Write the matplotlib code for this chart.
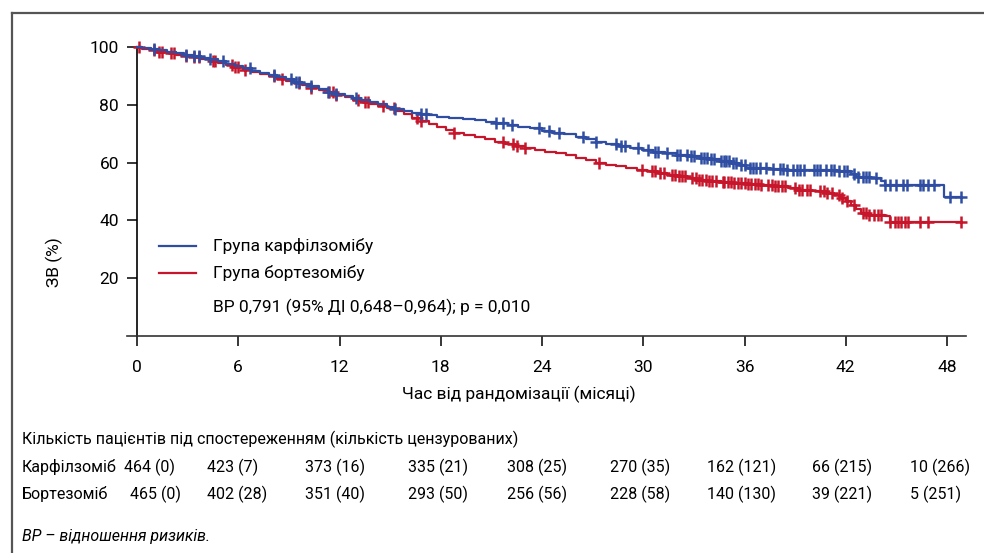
import numpy as np
import matplotlib
matplotlib.use("Agg")
import matplotlib.pyplot as plt
from matplotlib.lines import Line2D
from matplotlib import font_manager

# ---------------- data ----------------
carf_t = [0, 0.3, 0.8, 1.3, 1.8, 2.3, 2.8, 3.3, 3.8, 4.3, 4.8, 5.3, 5.8, 6.3, 6.8, 7.3, 7.8,
          8.3, 8.8, 9.3, 9.8, 10.3, 10.8, 11.3, 11.8, 12.3, 12.8, 13.3, 13.8, 14.3, 14.8,
          15.3, 15.8, 16.3, 16.8, 17.3, 17.8, 18.5, 19.3, 20.0, 20.7, 21.3, 22.0, 22.6,
          23.3, 24.0, 24.6, 25.3, 26.0, 26.6, 27.2, 27.8, 28.5, 29.2, 29.9, 30.6, 31.3,
          32.0, 32.7, 33.4, 34.0, 34.6, 35.2, 35.7, 36.1, 36.8, 37.5, 38.5, 39.5, 40.5,
          41.5, 42.3, 42.6, 43.5, 44.1, 44.3, 47.8, 48.8]
carf_s = [100, 99.6, 99.2, 98.8, 98.3, 97.9, 97.4, 96.9, 96.3, 95.7, 95.0, 94.2, 93.4, 92.6,
          91.8, 91.0, 90.3, 89.6, 88.8, 88.0, 87.2, 86.4, 85.5, 84.6, 83.8, 83.0, 82.3,
          81.6, 80.9, 80.2, 79.4, 78.6, 77.9, 77.3, 76.8, 76.3, 75.8, 75.4, 75.0, 74.6,
          74.1, 73.6, 73.0, 72.4, 71.8, 71.0, 70.4, 69.8, 69.0, 68.2, 67.3, 66.5, 65.8,
          65.1, 64.3, 63.8, 63.3, 62.8, 62.3, 61.7, 61.1, 60.5, 59.8, 59.0, 58.3, 58.0,
          57.7, 57.5, 57.4, 57.3, 57.1, 56.0, 55.0, 54.6, 53.6, 52.3, 48.2, 48.2]
carf_cens = [1.0, 2.9, 3.4, 3.7, 4.3, 5.1, 6.7, 8.1, 9.1, 9.4, 9.6, 10.3, 11.3, 11.8, 13.0,
             15.3, 16.8, 17.1, 21.3, 21.7, 22.2, 23.8, 24.4, 25.0, 26.4, 27.2, 28.4, 28.7,
             28.9, 29.7, 30.3, 30.7, 30.9, 31.4, 32.0, 32.2, 32.6, 32.8, 33.0, 33.4, 33.6,
             33.8, 34.0, 34.2, 34.6, 34.8, 34.9, 35.1, 35.3, 35.5, 35.8, 36.0, 36.3, 36.5,
             36.7, 36.9, 37.3, 37.7, 38.1, 38.3, 38.5, 38.9, 39.1, 39.3, 39.5, 40.1, 40.3,
             40.5, 40.8, 41.1, 41.3, 41.6, 41.9, 42.1, 42.5, 42.7, 43.0, 43.2, 43.4, 43.8,
             44.3, 44.6, 45.0, 45.4, 45.6, 46.4, 46.6, 46.9, 47.2, 48.2, 48.8]

bort_t = [0, 0.3, 0.8, 1.3, 1.8, 2.3, 2.8, 3.3, 3.8, 4.3, 4.8, 5.3, 5.8, 6.3, 6.8, 7.3, 7.8,
          8.3, 8.8, 9.3, 9.8, 10.3, 10.8, 11.3, 11.8, 12.3, 12.8, 13.3, 13.8, 14.3, 14.8,
          15.3, 15.8, 16.3, 16.8, 17.3, 17.8, 18.3, 18.8, 19.4, 20.0, 20.6, 21.2, 21.8,
          22.4, 23.0, 23.6, 24.2, 24.8, 25.4, 26.0, 26.6, 27.2, 27.8, 28.4, 29.0, 29.6,
          30.2, 30.8, 31.4, 32.0, 32.6, 33.2, 33.8, 34.6, 35.4, 36.2, 37.0, 37.8, 38.6,
          39.2, 40.0, 40.8, 41.3, 41.7, 42.0, 42.3, 42.6, 42.9, 43.3, 44.3, 44.6, 48.8]
bort_s = [100, 99.4, 98.9, 98.4, 97.9, 97.4, 96.9, 96.4, 95.9, 95.3, 94.6, 93.8, 93.0, 92.2,
          91.4, 90.6, 89.8, 89.1, 88.3, 87.5, 86.7, 85.9, 85.1, 84.3, 83.5, 82.6, 81.8,
          81.0, 80.2, 79.5, 78.8, 77.8, 76.7, 75.5, 74.4, 73.3, 72.2, 71.2, 70.3, 69.5,
          68.8, 68.0, 67.2, 66.3, 65.6, 65.0, 64.4, 63.8, 63.2, 62.5, 61.7, 60.8, 60.0,
          59.3, 58.7, 58.1, 57.5, 57.0, 56.4, 55.8, 55.2, 54.6, 54.1, 53.7, 53.4, 53.0,
          52.6, 52.2, 51.8, 51.3, 50.6, 50.1, 49.5, 48.8, 47.8, 46.6, 45.4, 44.0, 42.6,
          42.0, 41.5, 39.3, 39.3]
bort_cens = [0.1, 1.0, 1.3, 1.5, 2.0, 2.2, 2.9, 3.4, 3.7, 4.5, 4.6, 5.6, 5.8, 6.0, 6.4,
             8.1, 8.6, 9.6, 10.3, 11.4, 11.6, 11.8, 13.1, 13.5, 13.7, 14.6, 15.2, 16.6,
             16.8, 18.8, 21.7, 22.3, 22.5, 23.0, 27.4, 29.9, 30.5, 30.7, 31.0, 31.2, 31.7,
             31.9, 32.1, 32.3, 32.5, 32.9, 33.1, 33.3, 33.5, 33.7, 33.9, 34.1, 34.3, 34.7,
             34.8, 35.0, 35.2, 35.4, 35.6, 35.8, 36.0, 36.2, 36.4, 36.6, 36.8, 37.0, 37.4,
             37.6, 37.8, 38.0, 38.2, 38.4, 39.0, 39.2, 39.4, 39.7, 39.9, 40.5, 40.7, 40.9,
             41.2, 41.6, 41.8, 42.1, 42.5, 43.0, 43.2, 43.4, 43.7, 43.9, 44.1, 44.6, 44.9,
             45.1, 45.3, 45.5, 45.7, 46.4, 46.9, 48.8]

x_ticks = [0, 6, 12, 18, 24, 30, 36, 42, 48]
y_ticks = [20, 40, 60, 80, 100]

legend_labels = ["Група карфілзомібу", "Група бортезомібу"]
hr_text = "ВР 0,791 (95% ДІ 0,648–0,964); р = 0,010"
x_label = "Час від рандомізації (місяці)"
y_label = "ЗВ (%)"
risk_header = "Кількість пацієнтів під спостереженням (кількість цензурованих)"
risk_names = ["Карфілзоміб", "Бортезоміб"]
risk_carf = ["464 (0)", "423 (7)", "373 (16)", "335 (21)", "308 (25)", "270 (35)",
             "162 (121)", "66 (215)", "10 (266)"]
risk_bort = ["465 (0)", "402 (28)", "351 (40)", "293 (50)", "256 (56)", "228 (58)",
             "140 (130)", "39 (221)", "5 (251)"]
footnote = "ВР – відношення ризиків."

# ---------------- style ----------------
avail = {f.name for f in font_manager.fontManager.ttflist}
fam = next((f for f in ["Roboto", "Open Sans", "Noto Sans", "DejaVu Sans"] if f in avail), "DejaVu Sans")
plt.rcParams["font.family"] = [fam, "DejaVu Sans"]
FS = 11.5

BLUE = "#2f4ea3"
RED = "#c7162b"

W, H = 984, 553
fig = plt.figure(figsize=(W / 100, H / 100), dpi=100)


def fx(x):
    return x / W


def fy(y):
    return 1 - y / H


# frame lines (top and left)
fig.add_artist(Line2D([fx(12), fx(984)], [fy(13), fy(13)], transform=fig.transFigure,
                      color="#555555", lw=1.6))
fig.add_artist(Line2D([fx(12), fx(12)], [fy(13), fy(553)], transform=fig.transFigure,
                      color="#555555", lw=1.6))

ax_l, ax_r, ax_t, ax_b = 127, 966, 47, 336
ax = fig.add_axes([fx(ax_l), fy(ax_b), (ax_r - ax_l) / W, (ax_b - ax_t) / H])
ppm = 16.875  # px per month
ax.set_xlim(-(137 - ax_l) / ppm, (ax_r - 137) / ppm)
ax.set_ylim(0, 100)

for sp in ["top", "right"]:
    ax.spines[sp].set_visible(False)
ax.spines["left"].set_position(("data", 0))
ax.spines["left"].set_linewidth(1.2)
ax.spines["bottom"].set_linewidth(1.2)
ax.spines["bottom"].set_color("#333333")

ax.set_xticks(x_ticks)
ax.set_xticklabels([str(v) for v in x_ticks])
ax.set_yticks(y_ticks)
ax.set_yticklabels([str(v) for v in y_ticks])
ax.tick_params(axis="both", direction="out", length=7, width=1.1, labelsize=FS + 1,
               colors="black")
ax.tick_params(axis="x", pad=10)
ax.tick_params(axis="y", pad=6)


def draw(t, s, cens, color):
    t = np.asarray(t)
    s = np.asarray(s)
    ax.step(t, s, where="post", color=color, lw=1.6, clip_on=False, zorder=3)
    c = np.asarray(cens)
    idx = np.searchsorted(t, c, side="right") - 1
    ax.plot(c, s[idx], linestyle="none", marker="+", markersize=8, mew=1.8,
            color=color, clip_on=False, zorder=3)


draw(bort_t, bort_s, bort_cens, RED)
draw(carf_t, carf_s, carf_cens, BLUE)

# axis labels
fig.text(fx(54), fy(262), y_label, rotation=90, ha="center", va="center", fontsize=FS + 1)
fig.text(fx(519), fy(394), x_label, ha="center", va="center", fontsize=FS + 1)

# legend
for yy, col, lab in [(246, BLUE, legend_labels[0]), (273, RED, legend_labels[1])]:
    fig.add_artist(Line2D([fx(159), fx(196)], [fy(yy), fy(yy)], transform=fig.transFigure,
                          color=col, lw=1.6))
    fig.text(fx(213), fy(yy), lab, ha="left", va="center", fontsize=FS + 1)
fig.text(fx(213), fy(307), hr_text, ha="left", va="center", fontsize=FS + 1)

# risk table
fig.text(fx(22), fy(439), risk_header, ha="left", va="center", fontsize=FS)
col_x = [None, 207, 305, 408, 507, 610, 707, 812, 910]
first_x = [124, 130]
for r, (name, vals) in enumerate(zip(risk_names, [risk_carf, risk_bort])):
    yy = 467 + 27 * r
    fig.text(fx(22), fy(yy), name, ha="left", va="center", fontsize=FS)
    for j, v in enumerate(vals):
        xx = first_x[r] if j == 0 else col_x[j]
        fig.text(fx(xx), fy(yy), v, ha="left", va="center", fontsize=FS)

fig.text(fx(22), fy(537), footnote, ha="left", va="center", fontsize=FS, style="italic")

fig.savefig("out.png", dpi=100)
